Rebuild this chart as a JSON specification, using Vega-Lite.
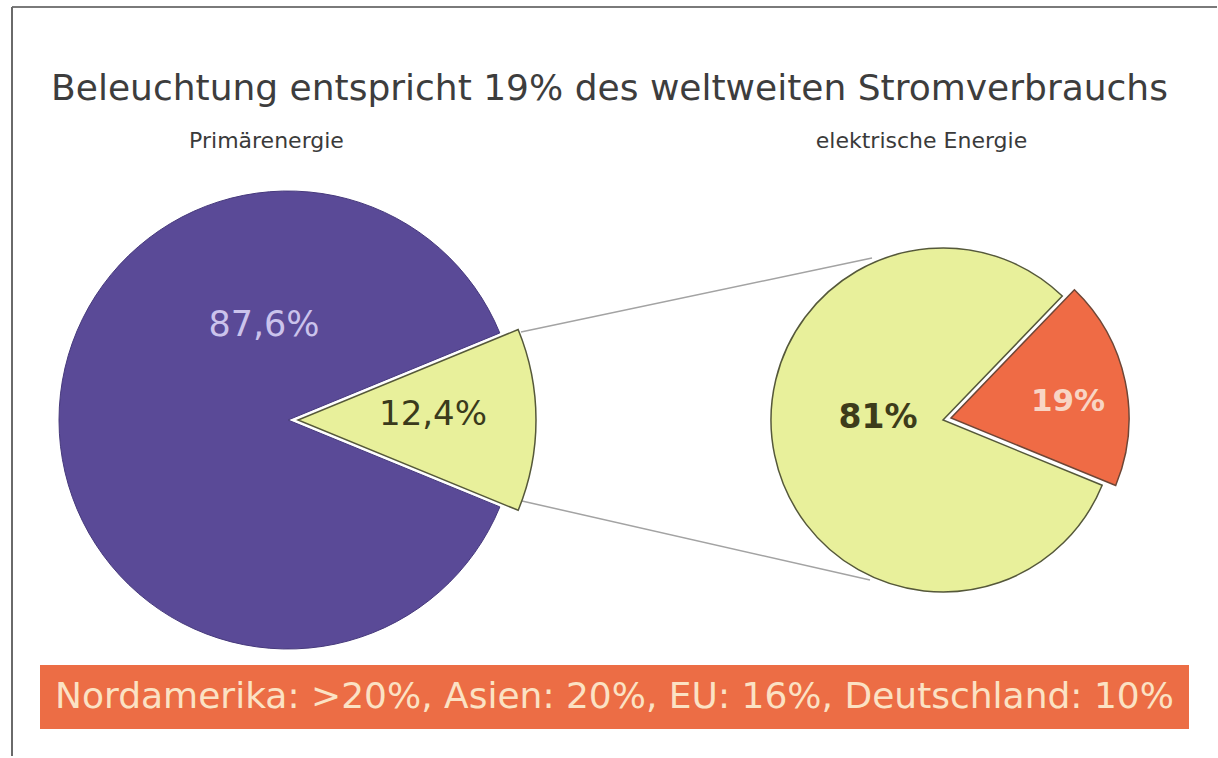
{
  "$schema": "https://vega.github.io/schema/vega-lite/v6.json",
  "background": "white",
  "padding": {"left": 11, "top": 6, "right": 0, "bottom": 0},
  "config": {
    "font": "DejaVu Sans",
    "view": {"stroke": null},
    "axisX": {"title": null, "domain": false, "ticks": false, "grid": false, "labelAngle": 0, "labelFont": "DejaVu Sans", "labelFontSize": 22, "labelColor": "#3a3a3a", "labelPadding": 28, "labelOffset": -22, "labelLimit": 0}
  },
  "datasets": {
    "segmente": [
      {"diagramm": "Primärenergie", "kategorie": "übrige Primärenergie", "anteil": 87.6, "beschriftung": "87,6%"},
      {"diagramm": "Primärenergie", "kategorie": "Strom", "anteil": 12.4, "beschriftung": "12,4%"},
      {"diagramm": "elektrische Energie", "kategorie": "übriger Strom", "anteil": 81, "beschriftung": "81%"},
      {"diagramm": "elektrische Energie", "kategorie": "Beleuchtung", "anteil": 19, "beschriftung": "19%"}
    ],
    "verbindungen": [
      {"kante": "oben", "diagramm": "Primärenergie", "nach": "elektrische Energie", "ebene": "Diagramm"},
      {"kante": "unten", "diagramm": "Primärenergie", "nach": "elektrische Energie", "ebene": "Diagramm"}
    ],
    "rahmen": [
      {"kante": "oben", "diagramm": "Primärenergie", "nach": "elektrische Energie", "ebene": "Diagramm"},
      {"kante": "links", "diagramm": "Primärenergie", "nach": "Primärenergie", "ebene": "Diagramm"}
    ],
    "titel": [
      {"text": "Beleuchtung entspricht 19% des weltweiten Stromverbrauchs"}
    ],
    "hinweis": [
      {"text": "Nordamerika: >20%, Asien: 20%, EU: 16%, Deutschland: 10%"}
    ]
  },
  "bounds": "flush",
  "spacing": 5,
  "vconcat": [
    {
      "width": 1151,
      "height": 480,
      "layer": [
        {
          "data": {"name": "rahmen"},
          "transform": [{"filter": {"field": "kante", "equal": "oben"}}],
          "mark": {"type": "rule", "color": "#7a7a7a", "strokeWidth": 2, "xOffset": -276, "x2Offset": 274, "yOffset": -413},
          "encoding": {
            "x": {"field": "diagramm", "type": "nominal", "scale": {"type": "point", "padding": 0, "domain": ["Primärenergie", "elektrische Energie"], "range": [248, 903]}, "axis": {"orient": "top"}},
            "x2": {"field": "nach"},
            "y": {"field": "ebene", "type": "nominal", "axis": null}
          }
        },
        {
          "data": {"name": "rahmen"},
          "transform": [{"filter": {"field": "kante", "equal": "links"}}],
          "mark": {"type": "rule", "color": "#6a6a6a", "strokeWidth": 2, "xOffset": -276, "yOffset": -413, "y2Offset": 336},
          "encoding": {
            "x": {"field": "diagramm", "type": "nominal", "axis": {"orient": "top"}},
            "y": {"field": "ebene", "type": "nominal", "axis": null},
            "y2": {"field": "ebene"}
          }
        },
        {
          "data": {"name": "titel"},
          "mark": {"type": "text", "font": "DejaVu Sans", "fontSize": 36, "color": "#3d3d3d", "baseline": "alphabetic", "dx": -6, "dy": -320},
          "encoding": {"text": {"field": "text"}}
        },
        {
          "data": {"name": "verbindungen"},
          "transform": [{"filter": {"field": "kante", "equal": "oben"}}],
          "mark": {"type": "rule", "color": "#a3a3a3", "strokeWidth": 1.5, "xOffset": 233, "yOffset": -88, "x2Offset": -71, "y2Offset": -162},
          "encoding": {
            "x": {"field": "diagramm", "type": "nominal", "axis": {"orient": "top"}},
            "x2": {"field": "nach"},
            "y": {"field": "ebene", "type": "nominal", "axis": null},
            "y2": {"field": "ebene"}
          }
        },
        {
          "data": {"name": "verbindungen"},
          "transform": [{"filter": {"field": "kante", "equal": "unten"}}],
          "mark": {"type": "rule", "color": "#a3a3a3", "strokeWidth": 1.5, "xOffset": 234, "yOffset": 81, "x2Offset": -73, "y2Offset": 160},
          "encoding": {
            "x": {"field": "diagramm", "type": "nominal", "axis": {"orient": "top"}},
            "x2": {"field": "nach"},
            "y": {"field": "ebene", "type": "nominal", "axis": null},
            "y2": {"field": "ebene"}
          }
        },
        {
          "data": {"name": "segmente"},
          "transform": [
            {"stack": "anteil", "groupby": ["diagramm"], "sort": [{"field": "anteil", "order": "descending"}], "as": ["anteil_von", "anteil_bis"]},
            {"filter": {"field": "kategorie", "equal": "übrige Primärenergie"}}
          ],
          "mark": {"type": "arc", "radius": 229, "stroke": "#46397c", "strokeWidth": 1},
          "encoding": {
            "x": {"field": "diagramm", "type": "nominal", "axis": {"orient": "top"}},
            "theta": {"field": "anteil_von", "type": "quantitative", "stack": null, "scale": {"domain": [0, 100], "range": [-4.3232, 1.96]}},
            "theta2": {"field": "anteil_bis"},
            "color": {"field": "kategorie", "type": "nominal", "legend": null, "scale": {"domain": ["übrige Primärenergie", "Strom", "übriger Strom", "Beleuchtung"], "range": ["#5a4a97", "#e8f09b", "#e8f09b", "#ef6b45"]}}
          }
        },
        {
          "data": {"name": "segmente"},
          "transform": [
            {"stack": "anteil", "groupby": ["diagramm"], "sort": [{"field": "anteil", "order": "descending"}], "as": ["anteil_von", "anteil_bis"]},
            {"filter": {"field": "kategorie", "equal": "Strom"}}
          ],
          "mark": {"type": "arc", "radius": 238, "stroke": "#55583a", "strokeWidth": 1.5, "xOffset": 10},
          "encoding": {
            "x": {"field": "diagramm", "type": "nominal", "axis": {"orient": "top"}},
            "theta": {"field": "anteil_von", "type": "quantitative", "stack": null, "scale": {"domain": [0, 100], "range": [-4.3232, 1.96]}},
            "theta2": {"field": "anteil_bis"},
            "color": {"field": "kategorie", "type": "nominal", "legend": null, "scale": {"domain": ["übrige Primärenergie", "Strom", "übriger Strom", "Beleuchtung"], "range": ["#5a4a97", "#e8f09b", "#e8f09b", "#ef6b45"]}}
          }
        },
        {
          "data": {"name": "segmente"},
          "transform": [
            {"stack": "anteil", "groupby": ["diagramm"], "sort": [{"field": "anteil", "order": "descending"}], "as": ["anteil_von", "anteil_bis"]},
            {"filter": {"field": "kategorie", "equal": "übriger Strom"}}
          ],
          "mark": {"type": "arc", "radius": 172, "stroke": "#55583a", "strokeWidth": 1.5},
          "encoding": {
            "x": {"field": "diagramm", "type": "nominal", "axis": {"orient": "top"}},
            "theta": {"field": "anteil_von", "type": "quantitative", "stack": null, "scale": {"domain": [0, 100], "range": [-4.3232, 1.96]}},
            "theta2": {"field": "anteil_bis"},
            "color": {"field": "kategorie", "type": "nominal", "legend": null, "scale": {"domain": ["übrige Primärenergie", "Strom", "übriger Strom", "Beleuchtung"], "range": ["#5a4a97", "#e8f09b", "#e8f09b", "#ef6b45"]}}
          }
        },
        {
          "data": {"name": "segmente"},
          "transform": [
            {"stack": "anteil", "groupby": ["diagramm"], "sort": [{"field": "anteil", "order": "descending"}], "as": ["anteil_von", "anteil_bis"]},
            {"filter": {"field": "kategorie", "equal": "Beleuchtung"}}
          ],
          "mark": {"type": "arc", "radius": 178, "stroke": "#6e4636", "strokeWidth": 1.5, "xOffset": 8, "yOffset": -2},
          "encoding": {
            "x": {"field": "diagramm", "type": "nominal", "axis": {"orient": "top"}},
            "theta": {"field": "anteil_von", "type": "quantitative", "stack": null, "scale": {"domain": [0, 100], "range": [-4.3232, 1.96]}},
            "theta2": {"field": "anteil_bis"},
            "color": {"field": "kategorie", "type": "nominal", "legend": null, "scale": {"domain": ["übrige Primärenergie", "Strom", "übriger Strom", "Beleuchtung"], "range": ["#5a4a97", "#e8f09b", "#e8f09b", "#ef6b45"]}}
          }
        },
        {
          "data": {"name": "segmente"},
          "transform": [{"filter": {"field": "kategorie", "equal": "übrige Primärenergie"}}],
          "mark": {"type": "text", "font": "DejaVu Sans", "fontSize": 35, "color": "#cbc3ec", "dx": -24, "dy": -95},
          "encoding": {
            "x": {"field": "diagramm", "type": "nominal", "axis": {"orient": "top"}},
            "text": {"field": "beschriftung"}
          }
        },
        {
          "data": {"name": "segmente"},
          "transform": [{"filter": {"field": "kategorie", "equal": "Strom"}}],
          "mark": {"type": "text", "font": "DejaVu Sans", "fontSize": 34, "color": "#3a3a1c", "dx": 145, "dy": -5},
          "encoding": {
            "x": {"field": "diagramm", "type": "nominal", "axis": {"orient": "top"}},
            "text": {"field": "beschriftung"}
          }
        },
        {
          "data": {"name": "segmente"},
          "transform": [{"filter": {"field": "kategorie", "equal": "übriger Strom"}}],
          "mark": {"type": "text", "font": "DejaVu Sans", "fontSize": 33, "fontWeight": "bold", "color": "#3d3c1a", "dx": -65, "dy": -2},
          "encoding": {
            "x": {"field": "diagramm", "type": "nominal", "axis": {"orient": "top"}},
            "text": {"field": "beschriftung"}
          }
        },
        {
          "data": {"name": "segmente"},
          "transform": [{"filter": {"field": "kategorie", "equal": "Beleuchtung"}}],
          "mark": {"type": "text", "font": "DejaVu Sans", "fontSize": 31, "fontWeight": "bold", "color": "#f8d5c4", "dx": 125, "dy": -18},
          "encoding": {
            "x": {"field": "diagramm", "type": "nominal", "axis": {"orient": "top"}},
            "text": {"field": "beschriftung"}
          }
        }
      ]
    },
    {
      "width": 1149,
      "height": 64,
      "view": {"fill": "#ec6d45", "stroke": null},
      "data": {"name": "hinweis"},
      "mark": {"type": "text", "font": "DejaVu Sans", "fontSize": 36, "color": "#fbe2c4"},
      "encoding": {"text": {"field": "text"}}
    }
  ]
}
